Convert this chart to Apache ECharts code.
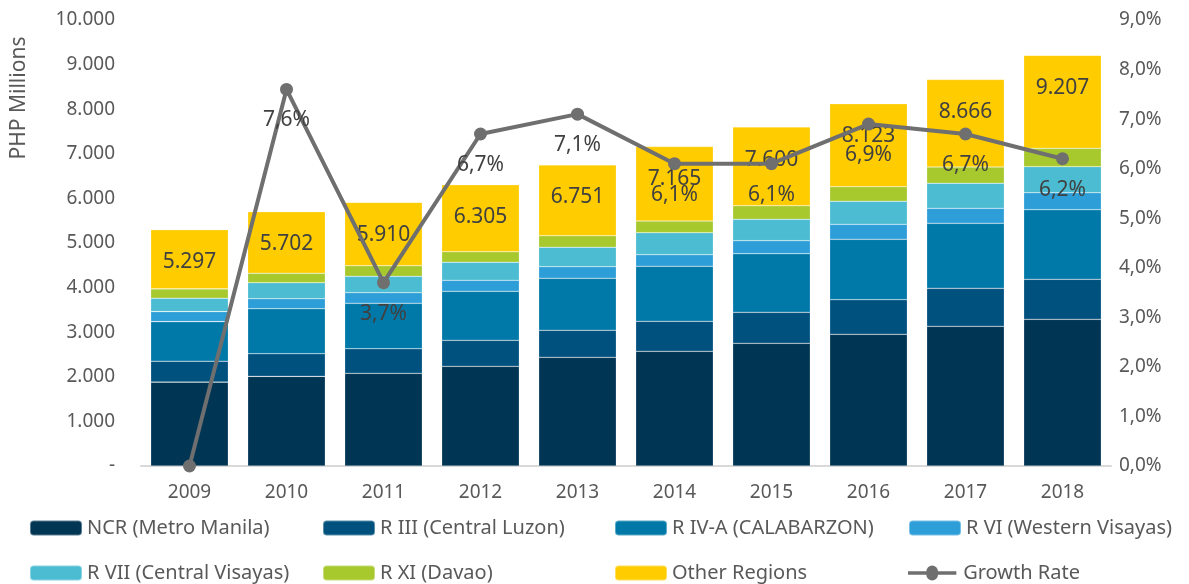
<!DOCTYPE html>
<html>
<head>
<meta charset="utf-8">
<script src="https://cdn.jsdelivr.net/npm/echarts@6/dist/echarts.min.js"></script>
<style>
  html, body { margin: 0; padding: 0; background: #fff; }
  #chart { width: 1189px; height: 584px; }
</style>
</head>
<body>
<div id="chart"></div>
<script>
  // categories + values (PHP millions)
  const years = ['2009', '2010', '2011', '2012', '2013', '2014', '2015', '2016', '2017', '2018'];
  const ncr = [1880, 2010, 2078, 2235, 2437, 2572, 2751, 2953, 3132, 3289];
  const r3 = [470, 508, 552, 583, 606, 672, 695, 776, 852, 897];
  const r4a = [887, 1009, 1018, 1099, 1166, 1234, 1314, 1354, 1458, 1561];
  const r6 = [225, 224, 238, 247, 260, 260, 292, 336, 336, 381];
  const r7 = [300, 359, 367, 403, 435, 493, 479, 516, 561, 583];
  const r11 = [209, 211, 238, 238, 260, 262, 305, 327, 365, 412];
  const other = [1326, 1381, 1419, 1500, 1587, 1672, 1764, 1861, 1962, 2084];
  const totals = [5297, 5702, 5910, 6305, 6751, 7165, 7600, 8123, 8666, 9207];
  const growth = [0, 7.6, 3.7, 6.7, 7.1, 6.1, 6.1, 6.9, 6.7, 6.2];

  const names = ['NCR (Metro Manila)', 'R III (Central Luzon)', 'R IV-A (CALABARZON)', 'R VI (Western Visayas)',
    'R VII (Central Visayas)', 'R XI (Davao)', 'Other Regions', 'Growth Rate'];
  const colors = ['#003654', '#00517e', '#0079a8', '#2d9ed7', '#4bbcd1', '#a7c92e', '#ffcc00', '#6f6f6f'];
  const stacks = [ncr, r3, r4a, r6, r7, r11, other];

  const font = 'Noto Sans';
  const txt = '#595959';

  function thousands(v) {
    return String(v).replace(/\B(?=(\d{3})+(?!\d))/g, '.');
  }

  let chart = echarts.init(document.getElementById('chart'));

  let series = stacks.map((d, i) => ({
    name: names[i],
    type: 'bar',
    stack: 'total',
    data: d,
    barCategoryGap: '20%',
    itemStyle: { color: colors[i], borderColor: 'rgba(255,255,255,0.35)', borderWidth: 0.6 },
    emphasis: { disabled: true }
  }));
  // totals printed inside the top (yellow) segment
  series[6].label = {
    show: true, position: 'insideTop', distance: 22,
    fontFamily: font, fontSize: 21, color: '#404040',
    formatter: p => thousands(totals[p.dataIndex])
  };
  series.push({
    name: names[7],
    type: 'line',
    yAxisIndex: 1,
    data: growth,
    z: 10,
    symbol: 'circle',
    symbolSize: 13,
    lineStyle: { color: colors[7], width: 4 },
    itemStyle: { color: colors[7] },
    label: {
      show: true, position: 'bottom', distance: 14,
      fontFamily: font, fontSize: 21, color: '#404040',
      formatter: p => p.value === 0 ? '' : p.value.toFixed(1).replace('.', ',') + '%'
    }
  });

  // one legend per item so the columns line up like the original
  const legendPos = [[29, 518], [322, 518], [614, 518], [908, 518], [29, 563], [322, 563], [614, 563], [908, 563]];
  let legends = names.map((n, i) => ({
    data: [i === 7 ? { name: n, icon: 'path://M0,6 L22,6 A7,7 0 1,1 36,6 L58,6 L58,10 L36,10 A7,7 0 1,1 22,10 L0,10 Z' } : n],
    left: legendPos[i][0],
    top: legendPos[i][1],
    itemWidth: 52,
    itemHeight: 15,
    itemGap: 6,
    padding: 0,
    selectedMode: false,
    textStyle: { fontFamily: font, fontSize: 20, color: txt }
  }));

  chart.setOption({
    animation: false,
    color: colors,
    grid: { left: 141, right: 78, top: 20, bottom: 118 },
    legend: legends,
    graphic: [{
      type: 'text', x: 19, y: 98, rotation: Math.PI / 2,
      style: { text: 'PHP Millions', fontFamily: font, fontSize: 21, fill: txt, align: 'center', verticalAlign: 'middle' }
    }],
    xAxis: {
      type: 'category',
      data: years,
      axisTick: { show: false },
      axisLine: { lineStyle: { color: '#d9d9d9', width: 2 } },
      axisLabel: { fontFamily: font, fontSize: 19, color: txt, margin: 17 }
    },
    yAxis: [{
      type: 'value', min: 0, max: 10000, interval: 1000,
      splitLine: { show: false },
      axisLabel: { fontFamily: font, fontSize: 19, color: txt, margin: 26,
        formatter: v => v === 0 ? '-' : thousands(v) }
    }, {
      type: 'value', min: 0, max: 9, interval: 1,
      splitLine: { show: false },
      axisLabel: { fontFamily: font, fontSize: 19, color: txt, margin: 8,
        formatter: v => v.toFixed(1).replace('.', ',') + '%' }
    }],
    series: series
  });
</script>
</body>
</html>
